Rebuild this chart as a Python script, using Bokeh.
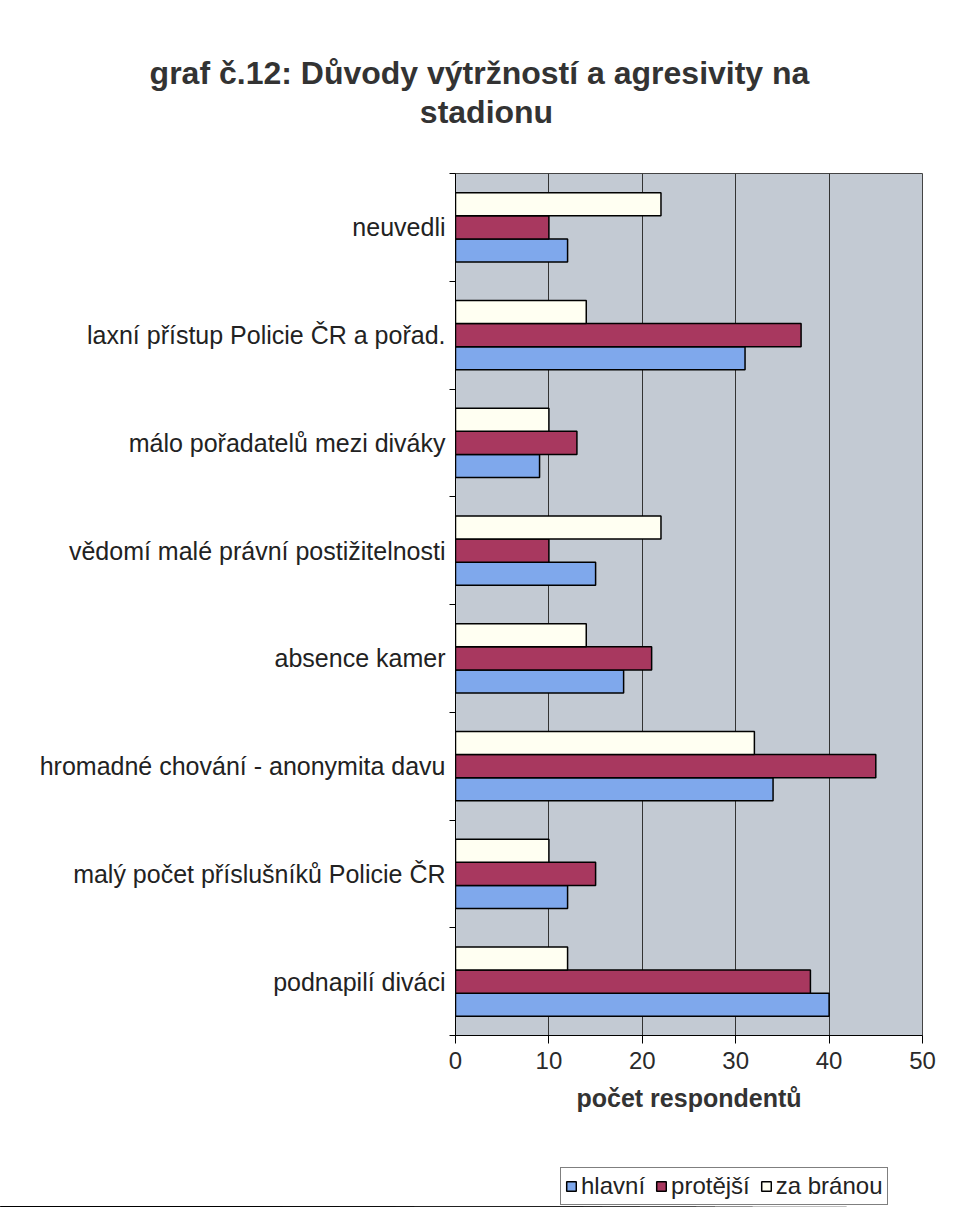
from bokeh.plotting import figure
from bokeh.models import (FixedTicker, Legend, LegendItem, ColumnDataSource, Label)
from bokeh.layouts import column
from bokeh.transform import dodge
from bokeh.embed import file_html
from bokeh.resources import INLINE

# ---- data (top to bottom as in the chart) ----
categories = [
    "neuvedli",
    "laxní přístup Policie ČR a pořad.",
    "málo pořadatelů mezi diváky",
    "vědomí malé právní postižitelnosti",
    "absence kamer",
    "hromadné chování - anonymita davu",
    "malý počet příslušníků Policie ČR",
    "podnapilí diváci",
]
hlavni = [12, 31, 9, 15, 18, 34, 12, 40]
protejsi = [10, 37, 13, 10, 21, 45, 15, 38]
za_branou = [22, 14, 10, 22, 14, 32, 10, 12]
series_names = ["hlavní", "protější", "za bránou"]
series_cols = ["hlavni", "protejsi", "za_branou"]
series_colors = ["#7fa8ec", "#a8385f", "#fffff2"]
x_ticks = [0, 10, 20, 30, 40, 50]

title_line1 = "graf č.12: Důvody výtržností a agresivity na"
title_line2 = "stadionu"
x_label = "počet respondentů"

FONT = "Liberation Sans"
W = 940
H_TITLE, H_MAIN, H_LEG = 171, 952, 84

n = len(categories)
centers = [n - i - 0.5 for i in range(n)]
bounds = list(range(0, n + 1))

src = ColumnDataSource(dict(
    y=centers, hlavni=hlavni, protejsi=protejsi, za_branou=za_branou,
))

# ---------------- title strip ----------------
pt = figure(width=W, height=H_TITLE, output_backend="svg", toolbar_location=None,
            x_range=(0, W), y_range=(0, H_TITLE), x_axis_location=None,
            y_axis_location=None, min_border=0, frame_align=False)
pt.outline_line_color = None
pt.grid.visible = False
pt.add_layout(Label(x=479, y=99, text=title_line1, text_align="center",
                    text_baseline="alphabetic", text_font=FONT, text_font_size="32px",
                    text_font_style="bold", text_color="#333333"))
pt.add_layout(Label(x=486, y=60, text=title_line2, text_align="center",
                    text_baseline="alphabetic", text_font=FONT, text_font_size="32px",
                    text_font_style="bold", text_color="#333333"))

# ---------------- main chart ----------------
p = figure(width=W, height=H_MAIN, output_backend="svg", toolbar_location=None,
           x_range=(0, 50), y_range=(0, n),
           min_border_left=455, min_border_right=18,
           min_border_top=2, min_border_bottom=88, frame_align=False)

p.background_fill_color = "#c3cad3"
p.border_fill_color = "white"
p.outline_line_color = "#444444"
p.outline_line_width = 1

bw = 0.215
offsets = [-bw, 0, bw]
for col, colr, off in zip(series_cols, series_colors, offsets):
    p.hbar(y=dodge("y", off, range=p.y_range), right=col, left=0, height=bw,
           source=src, fill_color=colr, line_color="black", line_width=1.5)

p.xaxis.ticker = FixedTicker(ticks=x_ticks)
p.xaxis.axis_line_color = "black"
p.xaxis.major_tick_line_color = "black"
p.xaxis.major_tick_out = 8
p.xaxis.major_tick_in = 0
p.xaxis.minor_tick_line_color = None
p.xaxis.major_label_text_font = FONT
p.xaxis.major_label_text_font_size = "24px"
p.xaxis.major_label_text_color = "#2a2a2a"
p.xaxis.major_label_standoff = 8
p.xaxis.axis_label = x_label
p.xaxis.axis_label_text_font = FONT
p.xaxis.axis_label_text_font_size = "25px"
p.xaxis.axis_label_text_font_style = "bold"
p.xaxis.axis_label_text_color = "#333333"
p.xaxis.axis_label_standoff = 12

p.yaxis.ticker = FixedTicker(ticks=centers, minor_ticks=bounds)
p.yaxis.major_label_overrides = {c: lab for c, lab in zip(centers, categories)}
p.yaxis.major_tick_line_color = None
p.yaxis.minor_tick_line_color = "black"
p.yaxis.minor_tick_out = 6
p.yaxis.minor_tick_in = 0
p.yaxis.axis_line_color = "black"
p.yaxis.major_label_text_font = FONT
p.yaxis.major_label_text_font_size = "25px"
p.yaxis.major_label_text_color = "#222222"
p.yaxis.major_label_standoff = 4

p.xgrid.ticker = FixedTicker(ticks=x_ticks)
p.xgrid.grid_line_color = "#333333"
p.xgrid.grid_line_width = 1
p.ygrid.grid_line_color = None

# ---------------- legend strip ----------------
# the series are drawn again here only to feed the legend; the view range keeps them hidden
pl = figure(width=W, height=H_LEG, output_backend="svg", toolbar_location=None,
            x_range=(0, 50), y_range=(100, 101), x_axis_location=None,
            y_axis_location=None, min_border=0, frame_align=False)
pl.outline_line_color = None
pl.grid.visible = False
items = []
for name, col, colr in zip(series_names, series_cols, series_colors):
    r = pl.hbar(y="y", right=col, left=0, height=bw, source=src, fill_color=colr,
                line_color="black", line_width=1.5)
    items.append(LegendItem(label=name, renderers=[r]))
legend = Legend(items=items, orientation="horizontal", location=(560, 2))
legend.label_text_font = FONT
legend.label_text_font_size = "24px"
legend.label_text_color = "#222222"
legend.glyph_width = 12
legend.glyph_height = 12
legend.label_standoff = 4
legend.spacing = 10
legend.padding = 4
legend.margin = 0
legend.border_line_color = "black"
legend.border_line_width = 1
legend.background_fill_color = "white"
legend.background_fill_alpha = 1
pl.add_layout(legend, "center")

layout = column(pt, p, pl, spacing=0)
open("out.html", "w").write(file_html(layout, INLINE))
